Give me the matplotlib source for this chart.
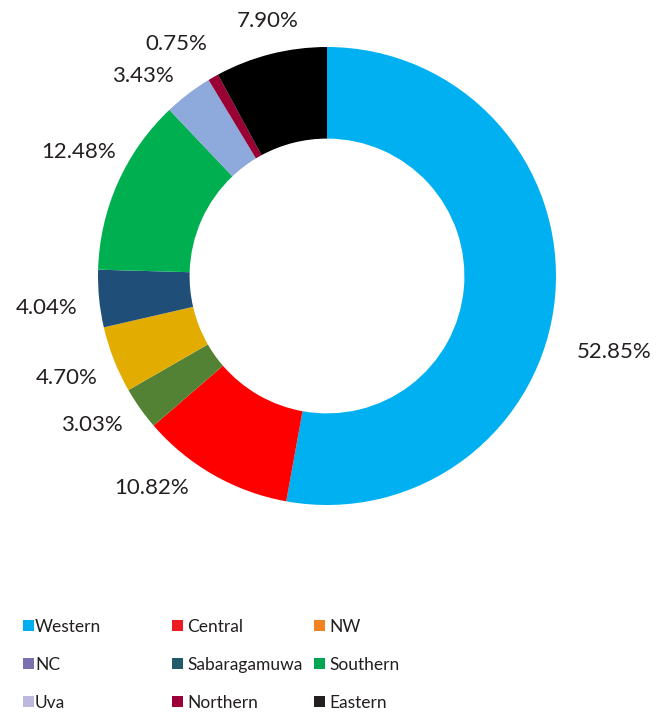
import matplotlib
matplotlib.use('Agg')
import matplotlib.pyplot as plt
from matplotlib.patches import Rectangle

# Provincial shares (%) in clockwise order starting at 12 o'clock
provinces = ['Western', 'Central', 'NW', 'NC', 'Sabaragamuwa',
             'Southern', 'Uva', 'Northern', 'Eastern']
shares = [52.85, 10.82, 3.03, 4.70, 4.04, 12.48, 3.43, 0.75, 7.90]

# ring colours (as drawn) and legend swatch colours (as printed)
ring_colors = ['#00B0F0', '#FF0000', '#548235', '#E2AC00', '#1F4E79',
               '#00B050', '#8EA9DB', '#990033', '#000000']
legend_colors = ['#00AEEF', '#ED1C24', '#F58220', '#7B6FB0', '#215A6A',
                 '#00A651', '#BDB9DD', '#9B0038', '#231F20']

# label centres in pixels of the original picture (x, y from top)
label_px = [(614, 352), (152, 488), (92, 425), (67, 378), (47, 308),
            (79, 152), (143, 76), (176, 44), (268, 21)]

plt.rcParams['font.family'] = ['Lato', 'DejaVu Sans']
txt_color = '#231F20'

W, H = 663, 713
cx, cy, half = 327, 276, 300
fig = plt.figure(figsize=(W / 100, H / 100), dpi=100)
ax = fig.add_axes([(cx - half) / W, (H - cy - half) / H, 2 * half / W, 2 * half / H])
ax.axis('off')

r_out = 229 / half
ax.pie(shares, colors=ring_colors, startangle=90, counterclock=False,
       radius=r_out, wedgeprops=dict(width=r_out * 0.4, linewidth=0))
ax.set_xlim(-1, 1)
ax.set_ylim(-1, 1)

for val, (px, py) in zip(shares, label_px):
    ax.text((px - cx) / half, (cy - py) / half, f'{val:.2f}%',
            ha='center', va='center', fontsize=16, color=txt_color)

# legend laid out as in the source: 3 columns x 3 rows
col_x = [23, 172, 314]
text_x = [35, 187, 329]
row_y = [625, 663, 701]
sq = 11
for i, (name, col) in enumerate(zip(provinces, legend_colors)):
    r, c = divmod(i, 3)
    x0, y0 = col_x[c], row_y[r]
    fig.patches.append(Rectangle((x0 / W, (H - y0 - sq / 2) / H), sq / W, sq / H,
                                 transform=fig.transFigure, color=col, lw=0))
    fig.text(text_x[c] / W, (H - y0 - 2) / H, name, ha='left', va='center',
             fontsize=12.5, color=txt_color)

fig.savefig('out.png', dpi=100)
